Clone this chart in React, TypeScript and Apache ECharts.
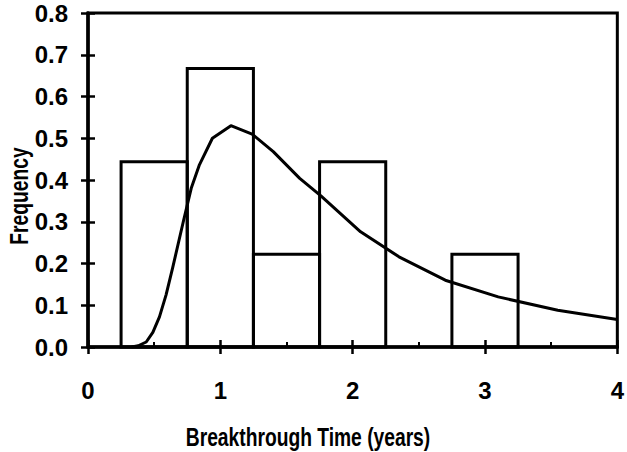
import React, { useEffect, useRef } from "react";
import * as echarts from "echarts";

// Histogram bins (years) and frequencies
const binStart = [0.25, 0.75, 1.25, 1.75, 2.75];
const binEnd = [0.75, 1.25, 1.75, 2.25, 3.25];
const binFreq = [0.444, 0.667, 0.222, 0.444, 0.222];

// Fitted distribution curve
const curveX = [0.33, 0.38, 0.44, 0.49, 0.54, 0.59, 0.64, 0.72, 0.78, 0.84, 0.94, 1.08, 1.24, 1.4, 1.6, 1.76, 2.06, 2.35, 2.7, 3.1, 3.55, 4.0];
const curveY = [0.0, 0.003, 0.012, 0.035, 0.072, 0.125, 0.19, 0.3, 0.38, 0.435, 0.5, 0.53, 0.51, 0.468, 0.404, 0.362, 0.276, 0.216, 0.16, 0.12, 0.088, 0.066];

const xTitle = "Breakthrough Time (years)";
const yTitle = "Frequency";

const FONT = '"Liberation Sans", Arial, sans-serif';

export default function App() {
  const ref = useRef<HTMLDivElement>(null);

  useEffect(() => {
    if (!ref.current) return;
    const chart = echarts.init(ref.current, undefined, { renderer: "svg" });
    const labelStyle = {
      fontFamily: FONT,
      fontWeight: "bold" as const,
      fontSize: 24,
      color: "#000",
    };
    chart.setOption({
      animation: false,
      backgroundColor: "#fff",
      grid: {
        left: 88,
        right: 9,
        top: 13,
        bottom: 105,
        show: true,
        borderColor: "#000",
        borderWidth: 3,
        backgroundColor: "transparent",
      },
      xAxis: [
        {
          type: "value",
          position: "bottom",
          min: 0,
          max: 4,
          interval: 1,
          axisLine: { show: true, onZero: false, lineStyle: { color: "#000", width: 3.5 } },
          axisTick: { show: true, inside: false, length: 7, lineStyle: { color: "#000", width: 2.5 } },
          axisLabel: { ...labelStyle, margin: 31 },
          splitLine: { show: false },
        },
        {
          type: "value",
          position: "bottom",
          min: 0,
          max: 4,
          interval: 1,
          axisLine: { show: false, onZero: false },
          axisTick: { show: true, inside: true, length: 7, lineStyle: { color: "#000", width: 2.5 } },
          minorTick: { show: true, splitNumber: 2, length: 5, lineStyle: { color: "#000", width: 2 } },
          axisLabel: { show: false },
          splitLine: { show: false },
        },
      ],
      yAxis: [
        {
          type: "value",
          position: "left",
          min: 0,
          max: 0.8,
          interval: 0.1,
          axisLine: { show: true, onZero: false, lineStyle: { color: "#000", width: 3.5 } },
          axisTick: { show: true, inside: false, length: 7, lineStyle: { color: "#000", width: 2.5 } },
          axisLabel: { ...labelStyle, margin: 20, formatter: (v: number) => v.toFixed(1) },
          splitLine: { show: false },
        },
        {
          type: "value",
          position: "left",
          min: 0,
          max: 0.8,
          interval: 0.1,
          axisLine: { show: false, onZero: false },
          axisTick: { show: true, inside: true, length: 7, lineStyle: { color: "#000", width: 2.5 } },
          axisLabel: { show: false },
          splitLine: { show: false },
        },
      ],
      series: [
        {
          type: "custom",
          xAxisIndex: 0,
          yAxisIndex: 0,
          encode: { x: [0, 1], y: 2 },
          data: binStart.map((s, i) => [s, binEnd[i], binFreq[i]]),
          renderItem: (params: any, api: any) => {
            const p0 = api.coord([api.value(0), api.value(2)]);
            const p1 = api.coord([api.value(1), 0]);
            return {
              type: "rect",
              shape: { x: p0[0], y: p0[1], width: p1[0] - p0[0], height: p1[1] - p0[1] },
              style: { fill: "none", stroke: "#000", lineWidth: 3, lineJoin: "miter" },
            };
          },
          z: 2,
        },
        {
          type: "line",
          xAxisIndex: 0,
          yAxisIndex: 0,
          data: curveX.map((x, i) => [x, curveY[i]]),
          showSymbol: false,
          symbol: "none",
          lineStyle: { color: "#000", width: 3, join: "round" },
          z: 3,
        },
      ],
      graphic: [
        {
          type: "text",
          x: 308,
          y: 438,
          scaleX: 0.77,
          style: {
            text: xTitle,
            x: 0,
            y: 0,
            align: "center",
            verticalAlign: "middle",
            font: `bold 25px ${FONT}`,
            fill: "#000",
          },
        },
        {
          type: "text",
          x: 20,
          y: 196,
          rotation: Math.PI / 2,
          scaleX: 0.77,
          style: {
            text: yTitle,
            x: 0,
            y: 0,
            align: "center",
            verticalAlign: "middle",
            font: `bold 25px ${FONT}`,
            fill: "#000",
          },
        },
      ],
    });
    return () => chart.dispose();
  }, []);

  return <div ref={ref} style={{ width: 627, height: 452, position: "absolute", left: 0, top: 0 }} />;
}
